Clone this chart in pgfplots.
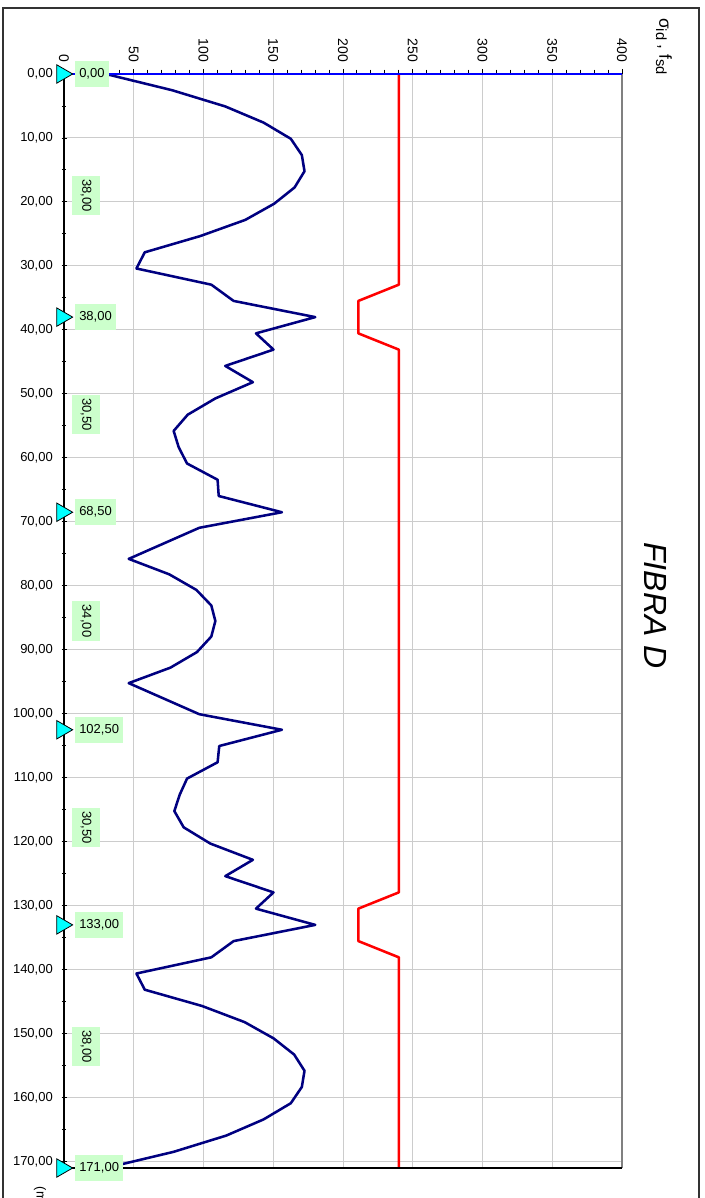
\documentclass[border=0pt]{standalone}
\usepackage{pgfplots}
\pgfplotsset{compat=1.18}
\usepackage{fontspec}
\setmainfont{Liberation Sans}
\definecolor{navyc}{HTML}{000080}
\definecolor{lblgreen}{HTML}{CCFFCC}
\definecolor{gridc}{HTML}{CCCCCC}
\definecolor{edgec}{HTML}{808080}
\definecolor{trifill}{HTML}{00FFFF}
\begin{document}
\begin{tikzpicture}[x=0.75pt,y=0.75pt,
  poslbl/.style={anchor=west, fill=lblgreen, inner xsep=3pt, inner ysep=0pt, minimum height=19.5pt, font=\fontsize{9.75}{11}\selectfont},
  spanlbl/.style={rotate=-90, anchor=center, fill=lblgreen, inner xsep=2.5pt, inner ysep=0pt, minimum height=21pt, font=\fontsize{9.75}{11}\selectfont}]
\useasboundingbox (0,0) rectangle (704,1198);
\clip (0,0) rectangle (704,1198);
\draw[line width=1.1pt, draw=black!80] (3,1190) rectangle (699,-20);
\begin{axis}[
  at={(257.25pt,432.75pt)}, anchor=center,
  scale only axis, width=418.5pt, height=820.5pt,
  xmin=0, xmax=400, ymin=0, ymax=171, y dir=reverse,
  clip=false,
  axis line style={draw=none},
  xtick={0,50,...,400}, minor x tick num=4,
  ytick={0,10,...,170}, minor y tick num=1,
  xtick pos=right, ytick pos=left,
  xticklabel pos=right, yticklabel pos=left,
  xtick align=outside, ytick align=center,
  major tick length=3.75pt, minor tick length=3.2pt,
  tick style={black, line width=0.7pt},
  grid=major, major grid style={gridc, line width=0.75pt},
  x tick label style={yshift=1.5pt, rotate=-90, anchor=east, font=\fontsize{10.5}{12}\selectfont, /pgf/number format/assume math mode=true},
  y tick label style={xshift=-3pt, font=\fontsize{9.75}{11}\selectfont, /pgf/number format/.cd, fixed, fixed zerofill, precision=2, use comma, assume math mode=true},
]
% red line (f_sd)
\addplot[red, line width=1.9pt, line join=round] coordinates {
(240,0) (240,32.93) (211,35.47) (211,40.54) (240,43.08) (240,127.92) (211,130.46) (211,135.53) (240,138.07) (240,171)
};
% blue line (sigma_id)
\addplot[navyc, line width=1.9pt, line join=round] coordinates {
(30,0) (77.4,2.53) (115.6,5.07) (143.1,7.60) (162.6,10.13) (170.5,12.67) (172.4,15.20) (165.3,17.73) (150.7,20.27) (130,22.80) (97.7,25.33) (57.9,27.87) (51.9,30.40) (105.6,32.93) (121.6,35.47) (180.1,38.00)
(137.6,40.54) (150.2,43.08) (115.6,45.63) (135.4,48.17) (108.5,50.71) (88.7,53.25) (78.6,55.79) (82.2,58.33) (88.2,60.88) (110.1,63.42) (110.9,65.96) (156.2,68.50)
(97.0,70.93) (71.7,73.36) (46.4,75.79) (75.5,78.21) (94.9,80.64) (105.6,83.07) (108.5,85.50) (105.6,87.93) (95.3,90.36) (76.3,92.79) (46.4,95.21) (71.7,97.64) (97.0,100.07) (156.2,102.50)
(111.3,105.04) (110.1,107.58) (88.2,110.13) (82.9,112.67) (79.1,115.21) (85.8,117.75) (104.9,120.29) (135.4,122.83) (115.6,125.38) (150.2,127.92) (137.6,130.46) (180.1,133.00)
(121.6,135.53) (105.6,138.07) (51.9,140.60) (57.9,143.13) (98.9,145.67) (129.5,148.20) (150.2,150.73) (165,153.27) (172.4,155.80) (170.5,158.33) (162.6,160.87) (143.1,163.40) (116.3,165.93) (78.6,168.47) (30,171.00)
};
% frame edges
\draw[edgec, line width=1.1pt] (axis cs:400,0) -- (axis cs:400,171);
\draw[black, line width=1.1pt] (axis cs:0,171) -- (axis cs:400,171);
\draw[blue, line width=1.1pt] (axis cs:0,0) -- (axis cs:400,0);
\draw[black, line width=1.1pt] (axis cs:0,0) -- (axis cs:0,171);
% supports
\addplot[only marks, mark=triangle*, mark size=8pt, mark options={xshift=-1.5pt, rotate=-90, fill=trifill, draw=black, line width=0.6pt}] coordinates {
(0,0) (0,38) (0,68.5) (0,102.5) (0,133) (0,171)
};
% position labels
\node[poslbl] at ([xshift=8.25pt]axis cs:0,0) {0,00};
\node[poslbl] at ([xshift=8.25pt]axis cs:0,38) {38,00};
\node[poslbl] at ([xshift=8.25pt]axis cs:0,68.5) {68,50};
\node[poslbl] at ([xshift=8.25pt]axis cs:0,102.5) {102,50};
\node[poslbl] at ([xshift=8.25pt]axis cs:0,133) {133,00};
\node[poslbl] at ([xshift=8.25pt]axis cs:0,171) {171,00};
% span labels
\node[spanlbl] at ([xshift=16.5pt]axis cs:0,19) {38,00};
\node[spanlbl] at ([xshift=16.5pt]axis cs:0,53.25) {30,50};
\node[spanlbl] at ([xshift=16.5pt]axis cs:0,85.5) {34,00};
\node[spanlbl] at ([xshift=16.5pt]axis cs:0,117.75) {30,50};
\node[spanlbl] at ([xshift=16.5pt]axis cs:0,152) {38,00};
\end{axis}
\node[rotate=-90, font=\fontsize{13}{15}\selectfont] at (664,1151.5) {σ{\fontsize{11}{12}\selectfont\raisebox{-2.5pt}{id}} , f{\fontsize{11}{12}\selectfont\raisebox{-2.5pt}{sd}}};
\node[rotate=-90, font=\itshape\fontsize{24}{28}\selectfont] at (655,592.5) {FIBRA D};
\node[rotate=-90, anchor=west, font=\fontsize{9.75}{11}\selectfont] at (40,16) {(m)};
\end{tikzpicture}
\end{document}
